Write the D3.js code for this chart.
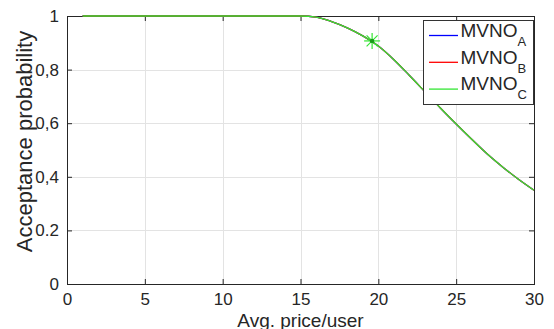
<!DOCTYPE html>
<html>
<head>
<meta charset="utf-8">
<script src="https://cdn.jsdelivr.net/npm/d3@7"></script>
<style>
  html, body { margin: 0; padding: 0; background: #fff; }
  svg { display: block; font-family: "Liberation Sans", Arial, Helvetica, sans-serif; }
</style>
</head>
<body>
<svg id="chart" width="554" height="329"></svg>
<script>
// Average price per user (x) and acceptance probability for each MVNO
const price = [1, 2, 3, 4, 5, 6, 7, 8, 9, 10, 11, 12, 13, 14, 15, 16, 17, 18, 19, 20, 21, 22, 23, 24, 25, 26, 27, 28, 29, 30];
const acceptA = [1, 1, 1, 1, 1, 1, 1, 1, 1, 1, 1, 1, 1, 1, 1, 0.996, 0.979, 0.956, 0.926, 0.888, 0.837, 0.778, 0.717, 0.656, 0.597, 0.540, 0.485, 0.436, 0.391, 0.350];
const acceptB = [1, 1, 1, 1, 1, 1, 1, 1, 1, 1, 1, 1, 1, 1, 1, 0.996, 0.979, 0.956, 0.926, 0.888, 0.837, 0.778, 0.717, 0.656, 0.597, 0.540, 0.485, 0.436, 0.391, 0.350];
const acceptC = [1, 1, 1, 1, 1, 1, 1, 1, 1, 1, 1, 1, 1, 1, 1, 0.996, 0.979, 0.956, 0.926, 0.888, 0.837, 0.778, 0.717, 0.656, 0.597, 0.540, 0.485, 0.436, 0.391, 0.350];
const seriesNames = ["A", "B", "C"];
const seriesColors = ["#0000ff", "#ff0000", "#33e633"];
// Operating point marked with an asterisk
const markPrice = [19.6];
const markAccept = [0.907];

const xTicks = [0, 5, 10, 15, 20, 25, 30];
const xTickLabels = ["0", "5", "10", "15", "20", "25", "30"];
const yTicks = [0, 0.2, 0.4, 0.6, 0.8, 1];
const yTickLabels = ["0", "0.2", "0,4", "0,6", "0,8", "1"];

const svg = d3.select("#chart");
const plotL = 67, plotR = 534, plotT = 16, plotB = 284;
const ink = "#262626";

const x = d3.scaleLinear().domain([0, 30]).range([plotL, plotR]);
const y = d3.scaleLinear().domain([0, 1]).range([plotB, plotT]);

// grid
const grid = svg.append("g");
grid.selectAll(".gx").data(xTicks).join("line")
  .attr("x1", d => Math.round(x(d)) + 0.5).attr("x2", d => Math.round(x(d)) + 0.5)
  .attr("y1", plotT).attr("y2", plotB)
  .attr("stroke", "#e3e3e3").attr("stroke-width", 1);
grid.selectAll(".gy").data(yTicks).join("line")
  .attr("x1", plotL).attr("x2", plotR)
  .attr("y1", d => Math.round(y(d)) + 0.5).attr("y2", d => Math.round(y(d)) + 0.5)
  .attr("stroke", "#e3e3e3").attr("stroke-width", 1);

// axes with inward ticks on all four sides
function styleAxis(g) {
  g.select(".domain").remove();
  g.selectAll(".tick line").attr("stroke", ink).attr("stroke-width", 1);
  g.selectAll(".tick text").attr("fill", ink).style("font-size", "17px")
    .style("font-family", "'Liberation Sans', Arial, sans-serif");
}
svg.append("g").attr("transform", `translate(0,${plotB})`)
  .call(d3.axisBottom(x).tickValues(xTicks).tickFormat((d, i) => xTickLabels[i]).tickSize(-5).tickPadding(9))
  .call(styleAxis);
svg.append("g").attr("transform", `translate(0,${plotT})`)
  .call(d3.axisTop(x).tickValues(xTicks).tickFormat("").tickSize(-5))
  .call(styleAxis);
svg.append("g").attr("transform", `translate(${plotL},0)`)
  .call(d3.axisLeft(y).tickValues(yTicks).tickFormat((d, i) => yTickLabels[i]).tickSize(-5).tickPadding(8))
  .call(styleAxis);
svg.append("g").attr("transform", `translate(${plotR},0)`)
  .call(d3.axisRight(y).tickValues(yTicks).tickFormat("").tickSize(-5))
  .call(styleAxis);

// box
svg.append("rect")
  .attr("x", plotL + 0.5).attr("y", plotT + 0.5)
  .attr("width", plotR - plotL).attr("height", plotB - plotT)
  .attr("fill", "none").attr("stroke", ink).attr("stroke-width", 1);

// curves
const line = d3.line().x(d => x(d[0])).y(d => y(d[1])).curve(d3.curveMonotoneX);
[acceptA, acceptB, acceptC].forEach((vals, i) => {
  svg.append("path")
    .datum(price.map((p, j) => [p, vals[j]]))
    .attr("d", line)
    .attr("fill", "none")
    .attr("stroke", seriesColors[i])
    .attr("stroke-width", 1.3);
});

// asterisk marker
const mx = x(markPrice[0]), my = y(markAccept[0]);
const star = svg.append("g").attr("transform", `translate(${mx},${my})`)
  .attr("stroke", seriesColors[2]).attr("stroke-width", 1.2);
star.append("line").attr("x1", -8).attr("x2", 8).attr("y1", 0).attr("y2", 0);
star.append("line").attr("x1", 0).attr("x2", 0).attr("y1", -8).attr("y2", 8);
star.append("line").attr("x1", -5.5).attr("x2", 5.5).attr("y1", -5.5).attr("y2", 5.5);
star.append("line").attr("x1", -5.5).attr("x2", 5.5).attr("y1", 5.5).attr("y2", -5.5);
svg.append("circle").attr("cx", mx).attr("cy", my).attr("r", 2.2).attr("fill", "#1a9a1a");

// axis labels
svg.append("text")
  .attr("x", (plotL + plotR) / 2).attr("y", 326.5)
  .attr("text-anchor", "middle").attr("fill", ink)
  .style("font-size", "19px")
  .text("Avg. price/user");
svg.append("text")
  .attr("transform", "translate(32,141.5) rotate(-90)")
  .attr("text-anchor", "middle").attr("fill", ink)
  .style("font-size", "22px")
  .text("Acceptance probability");

// legend
const lg = svg.append("g");
lg.append("rect")
  .attr("x", 423.5).attr("y", 20.5).attr("width", 110).attr("height", 84)
  .attr("fill", "#fff").attr("stroke", "#333").attr("stroke-width", 1);
seriesNames.forEach((n, i) => {
  const ly = 35.5 + i * 26.8;
  lg.append("line")
    .attr("x1", 429).attr("x2", 458).attr("y1", ly).attr("y2", ly)
    .attr("stroke", seriesColors[i]).attr("stroke-width", 1.3);
  const t = lg.append("text")
    .attr("x", 460.5).attr("y", ly + 1.2)
    .attr("fill", ink).style("font-size", "19px");
  t.append("tspan").text("MVNO");
  t.append("tspan").attr("dy", 9).style("font-size", "13px").text(n);
});
</script>
</body>
</html>
